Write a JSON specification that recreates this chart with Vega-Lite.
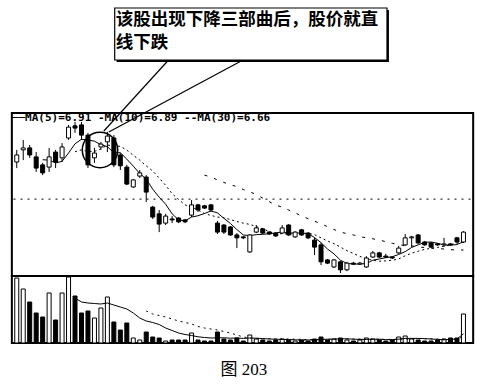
{
"$schema":"https://vega.github.io/schema/vega-lite/v6.json",
"width":486,"height":387,
"autosize":{"type":"fit","contains":"padding"},
"padding":0,
"background":"white",
"config":{"view":{"stroke":null}},
"data":{"values":[
{"i":0,"o":9.41,"h":9.79,"l":9.22,"c":9.63,"v":32500},
{"i":1,"o":9.79,"h":10.10,"l":9.47,"c":9.85,"v":27000},
{"i":2,"o":9.85,"h":9.94,"l":9.54,"c":9.63,"v":20500},
{"i":3,"o":9.57,"h":9.72,"l":9.10,"c":9.22,"v":15000},
{"i":4,"o":9.32,"h":9.38,"l":9.00,"c":9.07,"v":13000,"m5":9.48},
{"i":5,"o":9.25,"h":9.85,"l":9.10,"c":9.57,"v":25000,"m5":9.47},
{"i":6,"o":9.72,"h":9.79,"l":9.22,"c":9.41,"v":11500,"m5":9.38},
{"i":7,"o":9.54,"h":10.00,"l":9.41,"c":9.88,"v":25000,"m5":9.43},
{"i":8,"o":10.16,"h":10.57,"l":10.10,"c":10.50,"v":33000,"m5":9.69},
{"i":9,"o":10.54,"h":10.66,"l":10.32,"c":10.47,"v":23500,"m5":9.98,"m10":9.73,"vm5":22500},
{"i":10,"o":10.57,"h":10.66,"l":10.10,"c":10.25,"v":15000,"m5":10.12,"m10":9.79,"vm5":20500},
{"i":11,"o":10.25,"h":10.32,"l":9.22,"c":9.32,"v":16000,"m5":10.10,"m10":9.74,"vm5":20000},
{"i":12,"o":9.54,"h":9.85,"l":9.38,"c":9.69,"v":12500,"m5":10.06,"m10":9.74,"vm5":19750},
{"i":13,"o":9.88,"h":10.04,"l":9.79,"c":9.97,"v":17500,"m5":9.95,"m10":9.82,"vm5":19500},
{"i":14,"o":10.04,"h":10.35,"l":9.72,"c":10.22,"v":23000,"m5":9.89,"m10":9.94,"vm5":20000},
{"i":15,"o":10.16,"h":10.25,"l":9.25,"c":9.32,"v":10500,"m5":9.70,"m10":9.91,"vm5":19000},
{"i":16,"o":9.63,"h":9.69,"l":9.16,"c":9.29,"v":6500,"m5":9.70,"m10":9.90,"vm5":18000},
{"i":17,"o":9.25,"h":9.32,"l":8.69,"c":8.72,"v":10000,"m5":9.50,"m10":9.78,"vm5":17000},
{"i":18,"o":8.63,"h":8.88,"l":8.60,"c":8.85,"v":2500,"m5":9.28,"m10":9.62,"vm5":15000},
{"i":19,"o":8.97,"h":9.16,"l":8.91,"c":9.07,"v":1500,"m5":9.05,"m10":9.47,"vm5":12500},
{"i":20,"o":8.94,"h":9.00,"l":8.16,"c":8.47,"v":5500,"m5":8.88,"m10":9.29,"vm5":11000,"vm10":16000},
{"i":21,"o":8.00,"h":8.04,"l":7.63,"c":7.69,"v":3000,"m5":8.56,"m10":9.13,"vm5":10250,"vm10":14500},
{"i":22,"o":7.79,"h":7.91,"l":7.22,"c":7.47,"v":2500,"m5":8.31,"m10":8.91,"vm5":9250,"vm10":13750},
{"i":23,"o":7.50,"h":7.79,"l":7.44,"c":7.72,"v":1000,"m5":8.09,"m10":8.68,"vm5":7500,"vm10":13000},
{"i":24,"o":7.63,"h":7.72,"l":7.50,"c":7.60,"v":1500,"m5":7.79,"m10":8.42,"vm5":6250,"vm10":12000},
{"i":25,"o":7.66,"h":7.69,"l":7.50,"c":7.54,"v":1500,"m5":7.60,"m10":8.24,"vm5":5000,"vm10":11000},
{"i":26,"o":7.60,"h":7.63,"l":7.50,"c":7.54,"v":1500,"m5":7.57,"m10":8.07,"vm5":4250,"vm10":10250},
{"i":27,"o":7.75,"h":8.22,"l":7.69,"c":8.07,"v":5000,"m5":7.69,"m10":8.00,"vm5":3750,"vm10":9500},
{"i":28,"o":8.07,"h":8.10,"l":7.85,"c":7.91,"v":1500,"m5":7.73,"m10":7.91,"vm5":3100,"vm10":8250},
{"i":29,"o":8.04,"h":8.07,"l":7.94,"c":7.97,"v":1000,"m5":7.80,"m10":7.80,"m30":9.00,"vm5":2750,"vm10":7500},
{"i":30,"o":8.07,"h":8.10,"l":7.85,"c":7.91,"v":1000,"m5":7.88,"m10":7.74,"m30":8.94,"vm5":2500,"vm10":7000},
{"i":31,"o":7.50,"h":7.57,"l":7.16,"c":7.22,"v":5500,"m5":7.82,"m10":7.69,"m30":8.85,"vm5":2600,"vm10":6500},
{"i":32,"o":7.44,"h":7.47,"l":7.16,"c":7.22,"v":2000,"m5":7.65,"m10":7.67,"m30":8.77,"vm5":2600,"vm10":5750},
{"i":33,"o":7.38,"h":7.41,"l":7.10,"c":7.13,"v":1500,"m5":7.49,"m10":7.61,"m30":8.70,"vm5":2400,"vm10":5000},
{"i":34,"o":7.13,"h":7.19,"l":6.72,"c":7.04,"v":2500,"m5":7.30,"m10":7.55,"m30":8.64,"vm5":2500,"vm10":4000},
{"i":35,"o":7.07,"h":7.10,"l":7.00,"c":7.04,"v":1000,"m5":7.13,"m10":7.50,"m30":8.55,"vm5":2300,"vm10":3000},
{"i":36,"o":6.60,"h":7.16,"l":6.57,"c":7.13,"v":4000,"m5":7.11,"m10":7.46,"m30":8.48,"vm5":2500,"vm10":2500},
{"i":37,"o":7.22,"h":7.44,"l":7.19,"c":7.35,"v":2000,"m5":7.14,"m10":7.39,"m30":8.39,"vm5":2400,"vm10":2300},
{"i":38,"o":7.32,"h":7.35,"l":7.16,"c":7.19,"v":1500,"m5":7.15,"m10":7.32,"m30":8.28,"vm5":2200,"vm10":2200},
{"i":39,"o":7.22,"h":7.25,"l":7.13,"c":7.16,"v":1000,"m5":7.17,"m10":7.24,"m30":8.17,"vm5":2000,"vm10":2200},
{"i":40,"o":7.19,"h":7.22,"l":7.07,"c":7.10,"v":1500,"m5":7.19,"m10":7.16,"m30":8.06,"vm5":1900,"vm10":2100},
{"i":41,"o":7.19,"h":7.44,"l":7.16,"c":7.35,"v":2000,"m5":7.23,"m10":7.17,"m30":8.00,"vm5":1800,"vm10":2000},
{"i":42,"o":7.44,"h":7.47,"l":7.10,"c":7.13,"v":1500,"m5":7.19,"m10":7.16,"m30":7.91,"vm5":1700,"vm10":2000},
{"i":43,"o":7.07,"h":7.25,"l":7.04,"c":7.22,"v":1000,"m5":7.19,"m10":7.17,"m30":7.82,"vm5":1600,"vm10":1900},
{"i":44,"o":7.29,"h":7.32,"l":7.10,"c":7.13,"v":1500,"m5":7.19,"m10":7.18,"m30":7.72,"vm5":1500,"vm10":1800},
{"i":45,"o":7.19,"h":7.22,"l":7.00,"c":7.04,"v":1000,"m5":7.17,"m10":7.18,"m30":7.64,"vm5":1500,"vm10":1700},
{"i":46,"o":6.97,"h":7.04,"l":6.50,"c":6.75,"v":2000,"m5":7.05,"m10":7.14,"m30":7.56,"vm5":1500,"vm10":1700},
{"i":47,"o":6.82,"h":6.88,"l":6.19,"c":6.29,"v":3000,"m5":6.89,"m10":7.04,"m30":7.48,"vm5":1800,"vm10":1700},
{"i":48,"o":6.35,"h":6.38,"l":6.22,"c":6.25,"v":1500,"m5":6.69,"m10":6.94,"m30":7.39,"vm5":1900,"vm10":1800},
{"i":49,"o":6.13,"h":6.38,"l":6.10,"c":6.35,"v":2000,"m5":6.54,"m10":6.86,"m30":7.30,"vm5":2000,"vm10":1800},
{"i":50,"o":6.29,"h":6.32,"l":5.94,"c":6.04,"v":2500,"m5":6.34,"m10":6.75,"m30":7.22,"vm5":2100,"vm10":1900},
{"i":51,"o":6.04,"h":6.29,"l":6.00,"c":6.25,"v":1500,"m5":6.24,"m10":6.64,"m30":7.17,"vm5":2100,"vm10":2000},
{"i":52,"o":6.25,"h":6.29,"l":6.19,"c":6.22,"v":1000,"m5":6.22,"m10":6.55,"m30":7.13,"vm5":1900,"vm10":2000},
{"i":53,"o":6.22,"h":6.29,"l":6.19,"c":6.25,"v":1500,"m5":6.22,"m10":6.46,"m30":7.08,"vm5":1800,"vm10":2000},
{"i":54,"o":6.13,"h":6.47,"l":6.10,"c":6.41,"v":2500,"m5":6.24,"m10":6.39,"m30":7.04,"vm5":1800,"vm10":1900},
{"i":55,"o":6.44,"h":6.63,"l":6.41,"c":6.57,"v":2000,"m5":6.34,"m10":6.34,"m30":7.01,"vm5":1900,"vm10":1900},
{"i":56,"o":6.57,"h":6.60,"l":6.41,"c":6.44,"v":1500,"m5":6.38,"m10":6.31,"m30":6.97,"vm5":1900,"vm10":1900},
{"i":57,"o":6.47,"h":6.54,"l":6.41,"c":6.44,"v":1000,"m5":6.42,"m10":6.32,"m30":6.92,"vm5":1700,"vm10":1800},
{"i":58,"o":6.44,"h":6.47,"l":6.38,"c":6.41,"v":1500,"m5":6.45,"m10":6.34,"m30":6.87,"vm5":1700,"vm10":1800},
{"i":59,"o":6.57,"h":6.79,"l":6.54,"c":6.72,"v":3000,"m5":6.52,"m10":6.38,"m30":6.83,"vm5":1900,"vm10":1900},
{"i":60,"o":6.82,"h":7.16,"l":6.79,"c":7.04,"v":3500,"m5":6.61,"m10":6.48,"m30":6.79,"vm5":2300,"vm10":2000},
{"i":61,"o":7.04,"h":7.10,"l":6.75,"c":7.07,"v":2000,"m5":6.74,"m10":6.56,"m30":6.79,"vm5":2300,"vm10":2000},
{"i":62,"o":7.13,"h":7.16,"l":6.85,"c":6.88,"v":1500,"m5":6.82,"m10":6.62,"m30":6.75,"vm5":2300,"vm10":2100},
{"i":63,"o":6.91,"h":6.94,"l":6.79,"c":6.82,"v":1000,"m5":6.90,"m10":6.68,"m30":6.74,"vm5":2200,"vm10":2100},
{"i":64,"o":6.88,"h":6.91,"l":6.72,"c":6.75,"v":1000,"m5":6.91,"m10":6.71,"m30":6.72,"vm5":2000,"vm10":2100},
{"i":65,"o":6.85,"h":6.88,"l":6.79,"c":6.82,"v":1500,"m5":6.87,"m10":6.74,"m30":6.71,"vm5":1800,"vm10":2000},
{"i":66,"o":6.82,"h":7.04,"l":6.75,"c":6.85,"v":2000,"m5":6.82,"m10":6.78,"m30":6.69,"vm5":1600,"vm10":1900},
{"i":67,"o":6.85,"h":6.88,"l":6.79,"c":6.82,"v":2500,"m5":6.81,"m10":6.82,"m30":6.67,"vm5":1800,"vm10":1900},
{"i":68,"o":7.04,"h":7.07,"l":6.88,"c":6.91,"v":2500,"m5":6.83,"m10":6.87,"m30":6.66,"vm5":2000,"vm10":1900},
{"i":69,"o":6.91,"h":7.25,"l":6.88,"c":7.22,"v":14500,"m5":6.92,"m10":6.92,"m30":6.66,"vm5":4600,"vm10":3200}
]},
"layer":[
{"layer":[
 {"data":{"values":[{}]},"mark":{"type":"rule","color":"black","strokeWidth":1,"strokeDash":[2,5]},
  "encoding":{"x":{"datum":-0.5,"type":"quantitative","scale":{"domain":[-1.815,71.71],"nice":false,"zero":false},"axis":null},
   "x2":{"datum":70.3},
   "y":{"datum":8.25,"type":"quantitative","scale":{"domain":[2.37875,14.4725],"nice":false,"zero":false},"axis":null}}},
 {"mark":{"type":"line","color":"black","strokeWidth":1,"strokeDash":[3,7]},
  "encoding":{"x":{"field":"i","type":"quantitative","scale":{"domain":[-1.815,71.71],"nice":false,"zero":false},"axis":null},
   "y":{"field":"m30","type":"quantitative","scale":{"domain":[2.37875,14.4725],"nice":false,"zero":false},"axis":null}}},
 {"mark":{"type":"line","color":"black","strokeWidth":1,"strokeDash":[2,3]},
  "encoding":{"x":{"field":"i","type":"quantitative","scale":{"domain":[-1.815,71.71],"nice":false,"zero":false},"axis":null},
   "y":{"field":"m10","type":"quantitative","scale":{"domain":[2.37875,14.4725],"nice":false,"zero":false},"axis":null}}},
 {"mark":{"type":"line","color":"black","strokeWidth":1},
  "encoding":{"x":{"field":"i","type":"quantitative","scale":{"domain":[-1.815,71.71],"nice":false,"zero":false},"axis":null},
   "y":{"field":"m5","type":"quantitative","scale":{"domain":[2.37875,14.4725],"nice":false,"zero":false},"axis":null}}},
 {"mark":{"type":"rule","color":"black","strokeWidth":1},
  "encoding":{"x":{"field":"i","type":"quantitative","scale":{"domain":[-1.815,71.71],"nice":false,"zero":false},"axis":null},
   "y":{"field":"l","type":"quantitative","scale":{"domain":[2.37875,14.4725],"nice":false,"zero":false},"axis":null},
   "y2":{"field":"h"}}},
 {"mark":{"type":"bar","width":4,"stroke":"black","strokeWidth":1},
  "encoding":{"x":{"field":"i","type":"quantitative","scale":{"domain":[-1.815,71.71],"nice":false,"zero":false},"axis":null},
   "y":{"field":"o","type":"quantitative","scale":{"domain":[2.37875,14.4725],"nice":false,"zero":false},"axis":null},
   "y2":{"field":"c"},
   "fill":{"condition":{"test":"datum.c >= datum.o","value":"white"},"value":"black"}}},
 {"data":{"values":[{}]},"mark":{"type":"rect","fill":"white","fillOpacity":0,"stroke":"black","strokeWidth":2},
  "encoding":{"x":{"datum":-0.756,"type":"quantitative","scale":{"domain":[-1.815,71.71],"nice":false,"zero":false},"axis":null},
   "x2":{"datum":70.5},
   "y":{"datum":10.94,"type":"quantitative","scale":{"domain":[2.37875,14.4725],"nice":false,"zero":false},"axis":null},
   "y2":{"datum":5.85}}},
 {"data":{"values":[{}]},"mark":{"type":"rect","fill":"white","fillOpacity":0,"stroke":"black","strokeWidth":2},
  "encoding":{"x":{"datum":-0.756,"type":"quantitative","scale":{"domain":[-1.815,71.71],"nice":false,"zero":false},"axis":null},
   "x2":{"datum":70.5},
   "y":{"datum":5.85,"type":"quantitative","scale":{"domain":[2.37875,14.4725],"nice":false,"zero":false},"axis":null},
   "y2":{"datum":3.75}}},
 {"data":{"values":[{}]},"mark":{"type":"text","align":"left","baseline":"alphabetic","font":"DejaVu Sans Mono","fontSize":11,"fontWeight":"bold","color":"black","text":"──MA(5)=6.91 -MA(10)=6.89 --MA(30)=6.66"},
  "encoding":{"x":{"datum":-0.756,"type":"quantitative","scale":{"domain":[-1.815,71.71],"nice":false,"zero":false},"axis":null},
   "y":{"datum":10.69,"type":"quantitative","scale":{"domain":[2.37875,14.4725],"nice":false,"zero":false},"axis":null}}},
 {"data":{"values":[{}]},"mark":{"type":"point","shape":"circle","filled":false,"size":1257,"stroke":"black","strokeWidth":1.5,"opacity":1},
  "encoding":{"x":{"datum":12.86,"type":"quantitative","scale":{"domain":[-1.815,71.71],"nice":false,"zero":false},"axis":null},
   "y":{"datum":9.785,"type":"quantitative","scale":{"domain":[2.37875,14.4725],"nice":false,"zero":false},"axis":null}}},
 {"data":{"values":[{}]},"mark":{"type":"rule","color":"black","strokeWidth":1.2},
  "encoding":{"x":{"datum":23.45,"type":"quantitative","scale":{"domain":[-1.815,71.71],"nice":false,"zero":false},"axis":null},
   "x2":{"datum":13.46},
   "y":{"datum":12.5975,"type":"quantitative","scale":{"domain":[2.37875,14.4725],"nice":false,"zero":false},"axis":null},
   "y2":{"datum":10.379}}},
 {"data":{"values":[{}]},"mark":{"type":"rule","color":"black","strokeWidth":1.2},
  "encoding":{"x":{"datum":34.95,"type":"quantitative","scale":{"domain":[-1.815,71.71],"nice":false,"zero":false},"axis":null},
   "x2":{"datum":14.22},
   "y":{"datum":12.5975,"type":"quantitative","scale":{"domain":[2.37875,14.4725],"nice":false,"zero":false},"axis":null},
   "y2":{"datum":10.3475}}},
 {"data":{"values":[{}]},"mark":{"type":"rect","fill":"black"},
  "encoding":{"x":{"datum":15.43,"type":"quantitative","scale":{"domain":[-1.815,71.71],"nice":false,"zero":false},"axis":null},
   "x2":{"datum":57.49},
   "y":{"datum":14.16,"type":"quantitative","scale":{"domain":[2.37875,14.4725],"nice":false,"zero":false},"axis":null},
   "y2":{"datum":12.535}}},
 {"data":{"values":[{}]},"mark":{"type":"rect","fill":"white","stroke":"black","strokeWidth":1.2},
  "encoding":{"x":{"datum":15.13,"type":"quantitative","scale":{"domain":[-1.815,71.71],"nice":false,"zero":false},"axis":null},
   "x2":{"datum":57.19},
   "y":{"datum":14.2225,"type":"quantitative","scale":{"domain":[2.37875,14.4725],"nice":false,"zero":false},"axis":null},
   "y2":{"datum":12.5975}}},
 {"data":{"values":[{}]},"mark":{"type":"text","align":"left","baseline":"middle","font":"Noto Sans CJK SC","fontSize":17.5,"fontWeight":"bold","color":"black","text":"该股出现下降三部曲后，股价就直"},
  "encoding":{"x":{"datum":15.3,"type":"quantitative","scale":{"domain":[-1.815,71.71],"nice":false,"zero":false},"axis":null},
   "y":{"datum":13.832,"type":"quantitative","scale":{"domain":[2.37875,14.4725],"nice":false,"zero":false},"axis":null}}},
 {"data":{"values":[{}]},"mark":{"type":"text","align":"left","baseline":"middle","font":"Noto Sans CJK SC","fontSize":17.5,"fontWeight":"bold","color":"black","text":"线下跌"},
  "encoding":{"x":{"datum":15.3,"type":"quantitative","scale":{"domain":[-1.815,71.71],"nice":false,"zero":false},"axis":null},
   "y":{"datum":13.12,"type":"quantitative","scale":{"domain":[2.37875,14.4725],"nice":false,"zero":false},"axis":null}}},
 {"data":{"values":[{}]},"mark":{"type":"text","align":"center","baseline":"middle","font":"Liberation Serif, Noto Sans CJK SC","fontSize":17,"color":"black","text":"图 203"},
  "encoding":{"x":{"datum":35.1,"type":"quantitative","scale":{"domain":[-1.815,71.71],"nice":false,"zero":false},"axis":null},
   "y":{"datum":2.91,"type":"quantitative","scale":{"domain":[2.37875,14.4725],"nice":false,"zero":false},"axis":null}}}
]},
{"layer":[
 {"mark":{"type":"bar","width":4,"stroke":"black","strokeWidth":1},
  "encoding":{"x":{"field":"i","type":"quantitative","scale":{"domain":[-1.815,71.71],"nice":false,"zero":false},"axis":null},
   "y":{"field":"v","type":"quantitative","scale":{"domain":[-22000,171500],"nice":false,"zero":false},"axis":null},
   "y2":{"datum":0},
   "fill":{"condition":{"test":"datum.c >= datum.o","value":"white"},"value":"black"}}},
 {"mark":{"type":"line","color":"black","strokeWidth":1},
  "encoding":{"x":{"field":"i","type":"quantitative","scale":{"domain":[-1.815,71.71],"nice":false,"zero":false},"axis":null},
   "y":{"field":"vm5","type":"quantitative","scale":{"domain":[-22000,171500],"nice":false,"zero":false},"axis":null}}},
 {"mark":{"type":"line","color":"black","strokeWidth":1,"strokeDash":[2,4]},
  "encoding":{"x":{"field":"i","type":"quantitative","scale":{"domain":[-1.815,71.71],"nice":false,"zero":false},"axis":null},
   "y":{"field":"vm10","type":"quantitative","scale":{"domain":[-22000,171500],"nice":false,"zero":false},"axis":null}}}
]}
],
"resolve":{"scale":{"y":"independent"}}
}
